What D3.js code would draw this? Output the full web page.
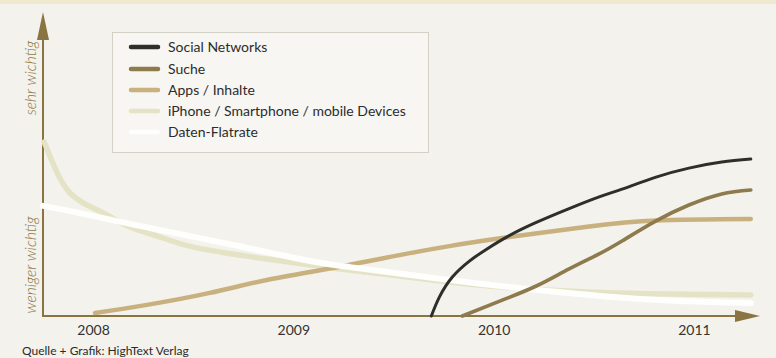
<!DOCTYPE html>
<html>
<head>
<meta charset="utf-8">
<script src="https://cdn.jsdelivr.net/npm/d3@7"></script>
<style>
  html, body { margin: 0; padding: 0; background: #f3f2ec; }
  svg { display: block; font-family: "Lato", "DejaVu Sans Condensed", sans-serif; }
</style>
</head>
<body>
<svg id="chart" width="776" height="358"></svg>
<script>
// Series names in legend order
const seriesNames = [
  "Social Networks",
  "Suche",
  "Apps / Inhalte",
  "iPhone / Smartphone / mobile Devices",
  "Daten-Flatrate"
];

// Year tick labels on the time axis
const yearTicks = [2008, 2009, 2010, 2011];

// Relative importance (0 = weniger wichtig, 100 = sehr wichtig) over time
const socialYears  = [2009.689, 2009.729, 2009.794, 2009.879, 2009.963, 2010.078, 2010.213, 2010.377, 2010.527, 2010.641, 2010.811, 2010.975, 2011.139, 2011.284];
const socialValues = [0, 6.3, 13, 18.3, 22.2, 26.8, 31.2, 35.8, 39.7, 42.3, 46.3, 49.3, 51.3, 52.3];

const sucheYears  = [2009.844, 2010.043, 2010.213, 2010.377, 2010.527, 2010.641, 2010.811, 2010.975, 2011.139, 2011.284];
const sucheValues = [0, 5.3, 10, 15.7, 20.7, 25, 31.7, 37, 40.7, 42];

const appsYears  = [2008.010, 2008.269, 2008.583, 2008.867, 2009.196, 2009.530, 2009.779, 2010.078, 2010.477, 2010.811, 2011.284];
const appsValues = [1, 3.7, 7.7, 12, 16, 20.3, 23.3, 26.3, 29.8, 31.8, 32.3];

const mobileYears  = [2007.756, 2007.821, 2007.885, 2007.970, 2008.070, 2008.184, 2008.349, 2008.518, 2008.867, 2009.196, 2009.530, 2009.978, 2010.477, 2010.875, 2011.284];
const mobileValues = [58, 47.7, 41, 37, 33.7, 29.7, 26, 22.7, 19, 16, 13.3, 10, 8, 7.3, 7];

const flatYears  = [2007.750, 2007.935, 2008.184, 2008.583, 2009.032, 2009.281, 2009.779, 2010.128, 2010.527, 2010.925, 2011.284];
const flatValues = [36.7, 34.3, 30.7, 25.3, 19, 16.3, 12, 9.3, 6.7, 5, 4.3];

const seriesColors = ["#2e2f2b", "#8d7a4d", "#c8b17f", "#e5e3c6", "#fefefc"];
const seriesWidths = [3, 3.6, 4.5, 5.5, 6];

const series = [
  { name: seriesNames[0], years: socialYears, values: socialValues },
  { name: seriesNames[1], years: sucheYears,  values: sucheValues },
  { name: seriesNames[2], years: appsYears,   values: appsValues },
  { name: seriesNames[3], years: mobileYears, values: mobileValues },
  { name: seriesNames[4], years: flatYears,   values: flatValues }
].map((s, i) => ({
  ...s,
  color: seriesColors[i],
  width: seriesWidths[i],
  points: s.years.map((yr, j) => ({ year: yr, value: s.values[j] }))
}));

const svg = d3.select("#chart");
const W = 776, H = 358;
const axisColor = "#8a7442";

// paper tint along the top edge
svg.append("rect").attr("x", 0).attr("y", 0).attr("width", W).attr("height", 4)
  .attr("fill", "#ece5c4").attr("opacity", 0.7);

const x = d3.scaleLinear().domain([2007.75, 2011.33]).range([43, 760]);
const y = d3.scaleLinear().domain([0, 100]).range([316, 16]);

const x0 = x.range()[0], x1 = x.range()[1];
const y0 = y.range()[0], yTop = y.range()[1] - 4;
const arrowLen = 25, arrowHalf = 6;

// axes with arrow heads
const axes = svg.append("g");
axes.append("line")
  .attr("x1", x0).attr("x2", x1 - arrowLen + 2)
  .attr("y1", y0).attr("y2", y0)
  .attr("stroke", axisColor).attr("stroke-width", 2);
axes.append("path")
  .attr("d", `M${x1},${y0} L${x1 - arrowLen},${y0 - arrowHalf} L${x1 - arrowLen},${y0 + arrowHalf} Z`)
  .attr("fill", axisColor);
axes.append("line")
  .attr("x1", x0).attr("x2", x0)
  .attr("y1", y0 + 1).attr("y2", yTop + arrowLen + 2)
  .attr("stroke", axisColor).attr("stroke-width", 2);
axes.append("path")
  .attr("d", `M${x0},${yTop} L${x0 - arrowHalf},${yTop + arrowLen + 3} L${x0 + arrowHalf},${yTop + arrowLen + 3} Z`)
  .attr("fill", axisColor);

// year labels
const xAxis = d3.axisBottom(x)
  .tickValues(yearTicks)
  .tickFormat(d3.format("d"))
  .tickSize(0)
  .tickPadding(9);
const gx = svg.append("g").attr("transform", `translate(0,${y0})`).call(xAxis);
gx.select(".domain").remove();
gx.selectAll("text")
  .attr("fill", "#333")
  .attr("font-size", 14)
  .attr("font-family", "Lato, 'DejaVu Sans Condensed', sans-serif");

// vertical axis captions
svg.append("text")
  .attr("transform", `translate(36,${78}) rotate(-90)`)
  .attr("text-anchor", "middle")
  .attr("font-size", 15.5).attr("font-style", "italic").attr("font-weight", 300)
  .attr("fill", axisColor)
  .text("sehr wichtig");
svg.append("text")
  .attr("transform", `translate(36,${265}) rotate(-90)`)
  .attr("text-anchor", "middle")
  .attr("font-size", 15.5).attr("font-style", "italic").attr("font-weight", 300)
  .attr("fill", axisColor)
  .text("weniger wichtig");

// curves, drawn from the lightest up to the darkest
const line = d3.line()
  .x(d => x(d.year))
  .y(d => y(d.value))
  .curve(d3.curveNatural);

const drawOrder = [3, 2, 4, 1, 0];
svg.append("g").selectAll("path")
  .data(drawOrder.map(i => series[i]))
  .join("path")
  .attr("d", d => line(d.points))
  .attr("fill", "none")
  .attr("stroke", d => d.color)
  .attr("stroke-width", d => d.width)
  .attr("stroke-linecap", "round")
  .attr("stroke-linejoin", "round");

// legend
const legend = svg.append("g");
legend.append("rect")
  .attr("x", 112.5).attr("y", 32.5).attr("width", 316).attr("height", 120)
  .attr("fill", "#f7f6f2").attr("stroke", "#d3d1c6").attr("stroke-width", 1);
const rowBaselines = [52, 74, 95, 116, 137];
const items = legend.selectAll("g.item")
  .data(series)
  .join("g").attr("class", "item")
  .attr("transform", (d, i) => `translate(0,${rowBaselines[i]})`);
items.append("line")
  .attr("x1", 131).attr("x2", 158)
  .attr("y1", -5).attr("y2", -5)
  .attr("stroke", d => d.color)
  .attr("stroke-width", 4.5)
  .attr("stroke-linecap", "round");
items.append("text")
  .attr("x", 168).attr("y", 0)
  .attr("font-size", 14)
  .attr("fill", "#2c2c2c")
  .text(d => d.name);

// source note
svg.append("text")
  .attr("x", 22).attr("y", 355)
  .attr("font-size", 12)
  .attr("fill", "#2a2a2a")
  .text("Quelle + Grafik: HighText Verlag");
</script>
</body>
</html>
